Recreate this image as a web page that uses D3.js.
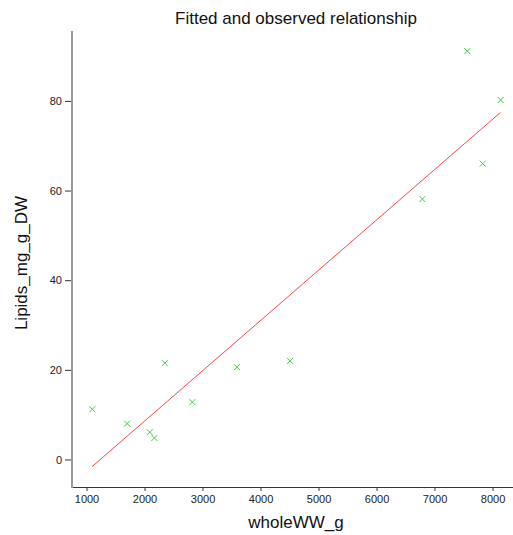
<!DOCTYPE html>
<html>
<head>
<meta charset="utf-8">
<script src="https://cdn.jsdelivr.net/npm/d3@7"></script>
<style>
  html, body { margin: 0; padding: 0; background: #fff; }
  svg { display: block; font-family: "Liberation Sans", Arial, sans-serif; }
</style>
</head>
<body>
<svg id="chart" width="513" height="535"></svg>
<script>
// Observed whole wet weight (g) and lipid content (mg/g DW)
const wholeWW = [1100, 1700, 2090, 2170, 2350, 2825, 3595, 4510, 6790, 7565, 7830, 8140];
const lipids  = [11.2, 8.0, 6.1, 4.8, 21.5, 12.8, 20.6, 22.0, 58.1, 91.1, 66.0, 80.2];

// Fitted line endpoints
const fitX = [1095, 8135];
const fitY = [-1.6, 77.4];

const xTicks = [1000, 2000, 3000, 4000, 5000, 6000, 7000, 8000];
const yTicks = [0, 20, 40, 60, 80];

const svg = d3.select("#chart");
const plotLeft = 72, plotRight = 513, plotTop = 31, plotBottom = 487;

const x = d3.scaleLinear().domain([750, 8353]).range([plotLeft, plotRight]);
const y = d3.scaleLinear().domain([-6.14, 95.6]).range([plotBottom, plotTop]);

// Title
svg.append("text")
  .attr("x", 296).attr("y", 24)
  .attr("text-anchor", "middle")
  .attr("font-size", 17)
  .attr("fill", "#111")
  .text("Fitted and observed relationship");

// X axis
const xAxis = svg.append("g")
  .attr("transform", `translate(0,${plotBottom})`)
  .call(d3.axisBottom(x).tickValues(xTicks).tickSize(4).tickPadding(4).tickFormat(d3.format("d")));
xAxis.select(".domain").attr("stroke", "#333").attr("d", `M${plotLeft},0.5H${plotRight}`);
xAxis.selectAll(".tick line").attr("stroke", "#333");
xAxis.selectAll(".tick text").attr("font-size", 11).attr("fill", "#222")
  .attr("font-family", "Liberation Sans, Arial, sans-serif");

// Y axis
const yAxis = svg.append("g")
  .attr("transform", `translate(${plotLeft},0)`)
  .call(d3.axisLeft(y).tickValues(yTicks).tickSize(8).tickPadding(2).tickFormat(d3.format("d")));
yAxis.select(".domain").attr("stroke", "#999").attr("stroke-width", 2).attr("d", `M0,${plotTop}V${plotBottom + 1}`);
yAxis.selectAll(".tick line").attr("stroke", "#333").attr("x2", -7).attr("x1", -1);
yAxis.selectAll(".tick text").attr("font-size", 11).attr("fill", "#222")
  .attr("font-family", "Liberation Sans, Arial, sans-serif");

// Axis titles
svg.append("text")
  .attr("x", 296).attr("y", 528)
  .attr("text-anchor", "middle")
  .attr("font-size", 17)
  .attr("fill", "#111")
  .text("wholeWW_g");

svg.append("text")
  .attr("transform", `translate(27,${(plotTop + plotBottom) / 2 + 4}) rotate(-90)`)
  .attr("text-anchor", "middle")
  .attr("font-size", 17)
  .attr("fill", "#111")
  .text("Lipids_mg_g_DW");

// Fitted line
svg.append("line")
  .attr("x1", x(fitX[0])).attr("y1", y(fitY[0]))
  .attr("x2", x(fitX[1])).attr("y2", y(fitY[1]))
  .attr("stroke", "#ff3030").attr("stroke-width", 0.9);

// Observed points as crosses
const s = 3;
const pts = svg.append("g").attr("stroke", "#3fd03f").attr("stroke-width", 1);
wholeWW.forEach((wv, i) => {
  const cx = x(wv), cy = y(lipids[i]);
  pts.append("path").attr("d", `M${cx - s},${cy - s}L${cx + s},${cy + s}M${cx - s},${cy + s}L${cx + s},${cy - s}`);
});
</script>
</body>
</html>
